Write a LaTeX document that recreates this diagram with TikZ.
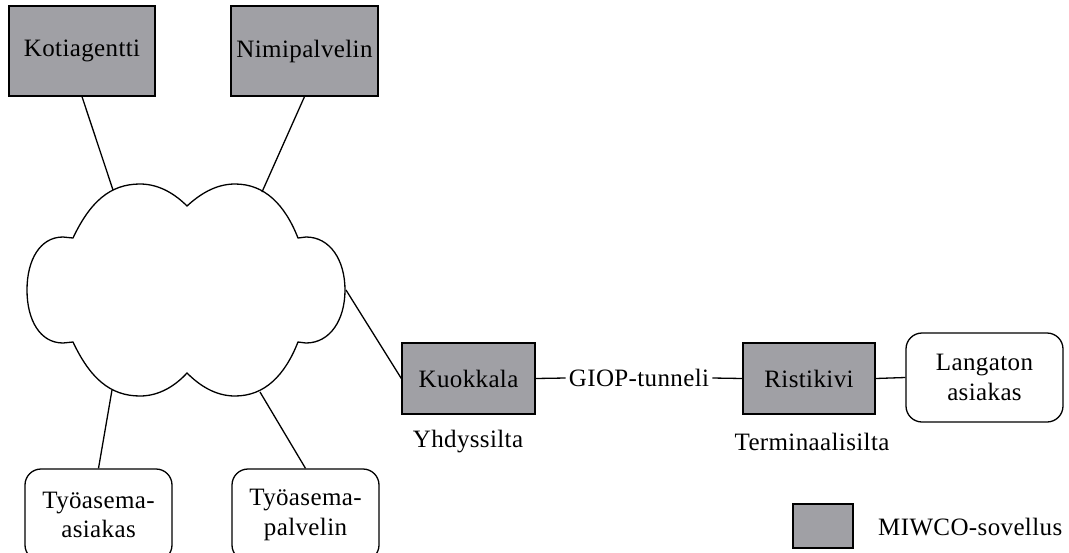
\documentclass[tikz,border=0pt]{standalone}
\usepackage{fontspec}
\setmainfont{Liberation Serif}[LetterSpace=1.5]
\definecolor{boxgray}{RGB}{160,160,165}
\tikzset{
  app/.style={draw=black, line width=1.3pt, fill=boxgray, minimum width=#1, minimum height=71pt, inner sep=0pt},
  client/.style={draw=black, line width=1.3pt, rounded corners=16pt, fill=white, align=center, inner sep=0pt, minimum width=#1},
  link/.style={draw=black, line width=1.3pt},
  lbl/.style={inner sep=0pt}
}
\begin{document}
\begin{tikzpicture}[x=1pt,y=-1pt,font=\fontsize{25}{29.5}\selectfont]
\useasboundingbox (0,0) rectangle (1069,552);
\fill[white] (0,0) rectangle (1069,552);
% cloud
\draw[line width=1.3pt]
  (73,238) .. controls (90,202) and (110,184) .. (140,184)
  .. controls (160,184) and (176,195) .. (187,206)
  .. controls (199,195) and (215,184) .. (235,184)
  .. controls (265,184) and (285,205) .. (298,238)
  -- (306,237) .. controls (330,237) and (345,260) .. (345,290)
  .. controls (345,320) and (330,343) .. (306,343) -- (298,342)
  .. controls (285,375) and (265,396) .. (235,396)
  .. controls (215,396) and (199,385) .. (187,373)
  .. controls (176,385) and (160,396) .. (140,396)
  .. controls (110,396) and (90,378) .. (73,342)
  -- (63,343) .. controls (40,343) and (27,320) .. (27,290)
  .. controls (27,260) and (40,237) .. (63,237) -- cycle;
\coordinate (c1) at (113,190);
\coordinate (c2) at (262,192);
\coordinate (c3) at (346,290);
\coordinate (c4) at (112,390);
\coordinate (c5) at (260,392);

\node[app=146pt, minimum height=90pt] (koti) at (82,51) {Kotiagentti};
\node[app=147pt, minimum height=90pt] (nimi) at (304.5,51) {Nimipalvelin};
\node[app=133pt] (kuok) at (468.5,378.5) {Kuokkala};
\node[app=132pt] (rist) at (809,378.5) {Ristikivi};
\node[client=157pt, minimum height=89pt] (lang) at (984.5,377.5) {Langaton\\asiakas};
\node[client=147pt, minimum height=92pt] (tyoa) at (98.5,515) {Työasema-\\asiakas};
\node[client=147pt, minimum height=92pt] (tyop) at (305.5,515) {Työasema-\\palvelin};
\node[lbl, inner xsep=3pt] (giop) at (639,378) {GIOP-tunneli};
\node[lbl] (yhd) at (468,442) {Yhdyssilta};
\node[lbl] (term) at (812,442) {Terminaalisilta};
\node[app=60pt, minimum height=44pt] (leg) at (823,526) {};
\node[lbl, anchor=west] (legt) at (878,527) {MIWCO-sovellus};

\draw[link] (koti.south) -- (c1);
\draw[link] (nimi.south) -- (c2);
\draw[link] (c3) -- (kuok.west);
\draw[link] (c4) -- (tyoa.north);
\draw[link] (c5) -- (tyop.north);
\draw[link] (kuok.east) -- (giop.west);
\draw[link] (giop.east) -- (rist.west);
\draw[link] (rist.east) -- (lang.west);
\end{tikzpicture}
\end{document}
